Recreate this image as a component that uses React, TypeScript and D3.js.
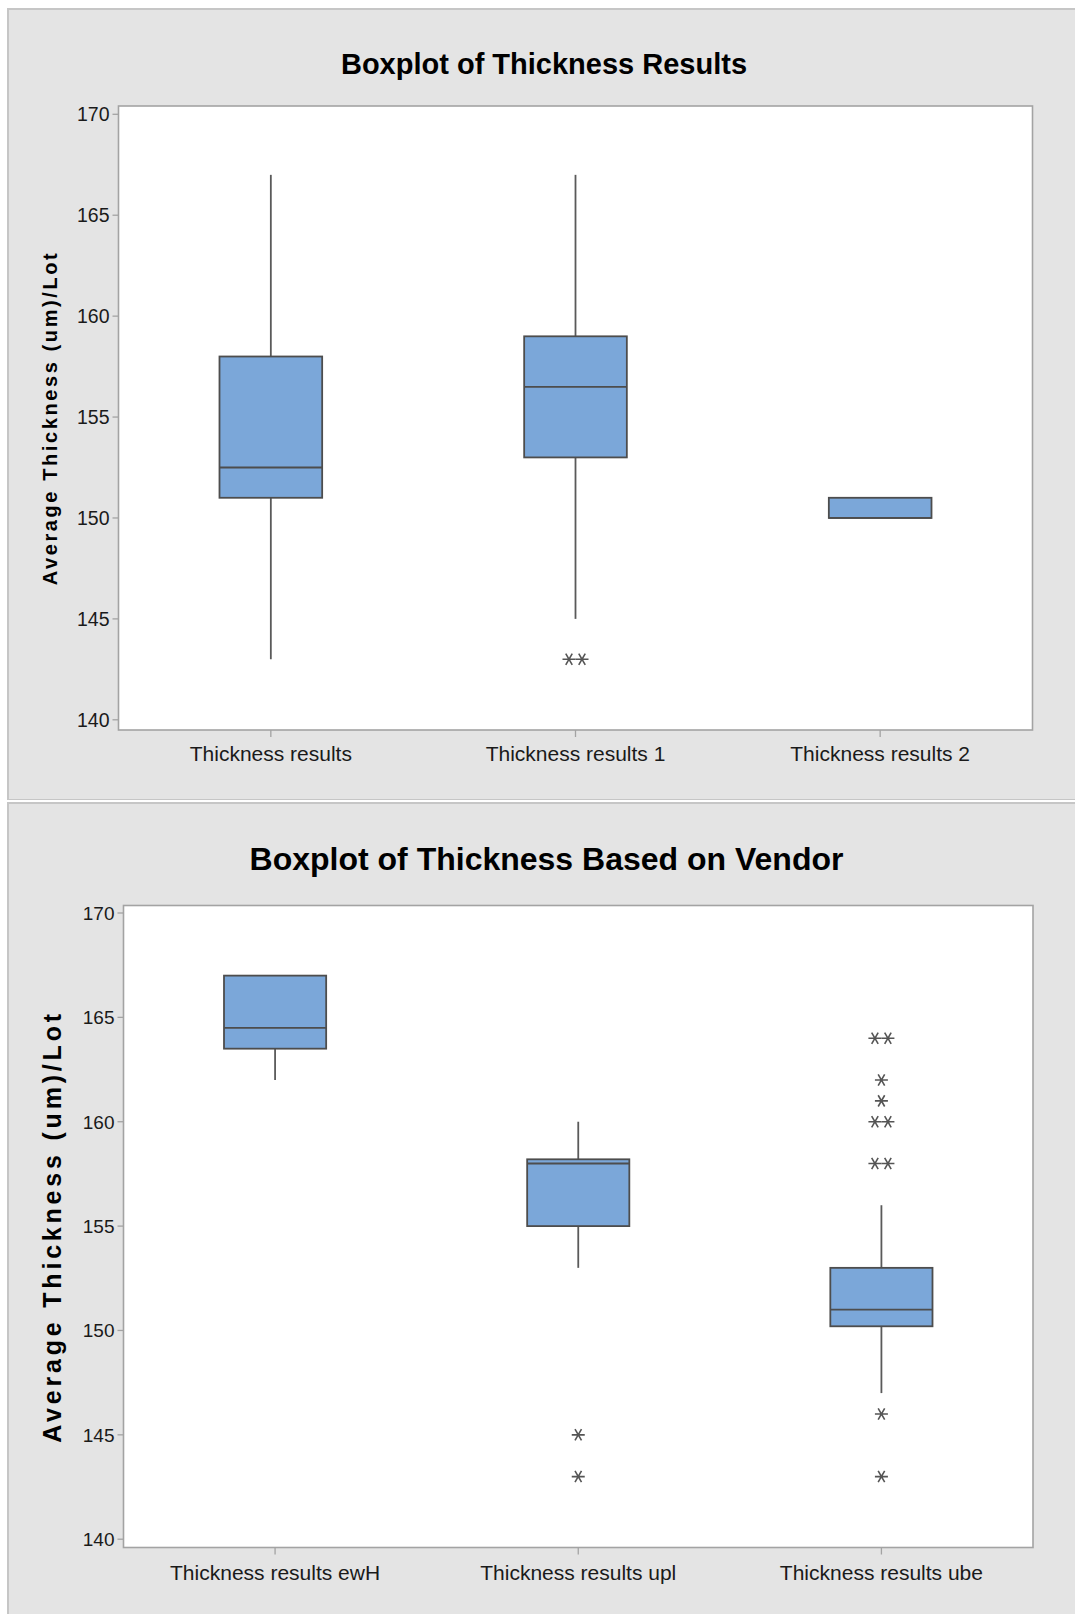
import React from "react";
import * as d3 from "d3";

// ---------- data ----------
const topCategories = ["Thickness results", "Thickness results 1", "Thickness results 2"];
const topWhiskerLow = [143, 145, 150];
const topQ1 = [151, 153, 150];
const topMedian = [152.5, 156.5, 150];
const topQ3 = [158, 159, 151];
const topWhiskerHigh = [167, 167, 151];
const topOutliers: number[][] = [[], [143, 143], []];

const bottomCategories = ["Thickness results ewH", "Thickness results upl", "Thickness results ube"];
const bottomWhiskerLow = [162, 153, 147];
const bottomQ1 = [163.5, 155, 150.2];
const bottomMedian = [164.5, 158, 151];
const bottomQ3 = [167, 158.2, 153];
const bottomWhiskerHigh = [167, 160, 156];
const bottomOutliers: number[][] = [[], [145, 143], [164, 164, 162, 161, 160, 160, 158, 158, 146, 143]];

const yTicks = [140, 145, 150, 155, 160, 165, 170];

const topTitle = "Boxplot of Thickness Results";
const bottomTitle = "Boxplot of Thickness Based on Vendor";
const yLabel = "Average Thickness (um)/Lot";

// ---------- styles ----------
const FONT = "'Liberation Sans', Arial, sans-serif";
const BOX_FILL = "#7ba7d9";
const BOX_STROKE = "#4d4d4d";
const WHISKER = "#5a5a5a";
const FRAME = "#a3a3a3";
const PANEL = "#e4e4e4";
const PANEL_BORDER = "#c6c6c6";

function starPath(cx: number, cy: number, r: number) {
  const a = Math.PI / 3;
  const dx = r * Math.cos(a);
  const dy = r * Math.sin(a);
  return `M${cx - r},${cy}H${cx + r}M${cx - dx},${cy - dy}L${cx + dx},${cy + dy}M${cx - dx},${cy + dy}L${cx + dx},${cy - dy}`;
}

type PanelProps = {
  title: string;
  titleX: number;
  titleY: number;
  titleSize: number;
  categories: string[];
  low: number[];
  q1: number[];
  med: number[];
  q3: number[];
  high: number[];
  outliers: number[][];
  frame: { x0: number; x1: number; y0: number; y1: number };
  yRange: [number, number];
  tickSize: number;
  catSize: number;
  catBaseline: number;
  labelX: number;
  labelSize: number;
  labelSpacing: number;
};

function BoxPanel(p: PanelProps) {
  const { frame } = p;
  const x = d3.scaleBand<string>().domain(p.categories).range([frame.x0, frame.x1]).padding(0);
  const y = d3.scaleLinear().domain([140, 170]).range(p.yRange);
  const boxW = x.bandwidth() * 0.337;
  const labelY = (frame.y0 + frame.y1) / 2;

  return (
    <g>
      <text x={p.titleX} y={p.titleY} textAnchor="middle" fontFamily={FONT} fontWeight="bold" fontSize={p.titleSize} fill="#000">
        {p.title}
      </text>
      <rect x={frame.x0} y={frame.y0} width={frame.x1 - frame.x0} height={frame.y1 - frame.y0} fill="#fff" stroke={FRAME} strokeWidth={1.6} />
      {yTicks.map((t) => (
        <g key={t}>
          <line x1={frame.x0 - 6} x2={frame.x0} y1={y(t)} y2={y(t)} stroke={FRAME} strokeWidth={1.3} />
          <text x={frame.x0 - 9} y={y(t)} dy="0.36em" textAnchor="end" fontFamily={FONT} fontSize={p.tickSize} fill="#1a1a1a">
            {t}
          </text>
        </g>
      ))}
      {p.categories.map((c) => {
        const cx = (x(c) as number) + x.bandwidth() / 2;
        return (
          <g key={c}>
            <line x1={cx} x2={cx} y1={frame.y1} y2={frame.y1 + 7} stroke={FRAME} strokeWidth={1.3} />
            <text x={cx} y={p.catBaseline} textAnchor="middle" fontFamily={FONT} fontSize={p.catSize} fill="#1a1a1a">
              {c}
            </text>
          </g>
        );
      })}
      <text
        transform={`translate(${p.labelX},${labelY}) rotate(-90)`}
        textAnchor="middle"
        dy="0.36em"
        fontFamily={FONT}
        fontWeight="bold"
        fontSize={p.labelSize}
        letterSpacing={p.labelSpacing}
        fill="#000"
      >
        {yLabel}
      </text>
      {p.categories.map((c, i) => {
        const cx = (x(c) as number) + x.bandwidth() / 2;
        const groups = d3.rollups(p.outliers[i], (v) => v.length, (d) => d);
        return (
          <g key={"b" + c}>
            {p.high[i] > p.q3[i] && (
              <line x1={cx} x2={cx} y1={y(p.high[i])} y2={y(p.q3[i])} stroke={WHISKER} strokeWidth={1.8} />
            )}
            {p.low[i] < p.q1[i] && (
              <line x1={cx} x2={cx} y1={y(p.q1[i])} y2={y(p.low[i])} stroke={WHISKER} strokeWidth={1.8} />
            )}
            <rect
              x={cx - boxW / 2}
              y={y(p.q3[i])}
              width={boxW}
              height={y(p.q1[i]) - y(p.q3[i])}
              fill={BOX_FILL}
              stroke={BOX_STROKE}
              strokeWidth={1.8}
            />
            <line x1={cx - boxW / 2} x2={cx + boxW / 2} y1={y(p.med[i])} y2={y(p.med[i])} stroke={BOX_STROKE} strokeWidth={1.8} />
            {groups.map(([v, n]) =>
              d3.range(n).map((k) => (
                <path
                  key={v + "-" + k}
                  d={starPath(cx + (k - (n - 1) / 2) * 13, y(v), 6.5)}
                  stroke="#555"
                  strokeWidth={1.6}
                  fill="none"
                />
              ))
            )}
          </g>
        );
      })}
    </g>
  );
}

export default function App() {
  return (
    <svg width={1075} height={1614} style={{ position: "absolute", left: 0, top: 0, display: "block" }}>
      <rect x={0} y={0} width={1075} height={1614} fill="#fff" />
      {/* top panel */}
      <rect x={7} y={8} width={1070} height={792} fill={PANEL_BORDER} />
      <rect x={9} y={10} width={1070} height={789} fill={PANEL} />
      {/* bottom panel */}
      <rect x={7} y={802} width={1070} height={814} fill={PANEL_BORDER} />
      <rect x={9} y={804} width={1070} height={814} fill={PANEL} />

      <BoxPanel
        title={topTitle}
        titleX={544}
        titleY={74}
        titleSize={29}
        categories={topCategories}
        low={topWhiskerLow}
        q1={topQ1}
        med={topMedian}
        q3={topQ3}
        high={topWhiskerHigh}
        outliers={topOutliers}
        frame={{ x0: 118.5, x1: 1032.5, y0: 106, y1: 730 }}
        yRange={[719.8, 114.3]}
        tickSize={19.5}
        catSize={21}
        catBaseline={761}
        labelX={50}
        labelSize={20}
        labelSpacing={2.6}
      />
      <BoxPanel
        title={bottomTitle}
        titleX={546.5}
        titleY={870}
        titleSize={32}
        categories={bottomCategories}
        low={bottomWhiskerLow}
        q1={bottomQ1}
        med={bottomMedian}
        q3={bottomQ3}
        high={bottomWhiskerHigh}
        outliers={bottomOutliers}
        frame={{ x0: 123.5, x1: 1033, y0: 905.5, y1: 1547.5 }}
        yRange={[1539.2, 913]}
        tickSize={19}
        catSize={21}
        catBaseline={1580}
        labelX={51.5}
        labelSize={25}
        labelSpacing={3.8}
      />
    </svg>
  );
}
